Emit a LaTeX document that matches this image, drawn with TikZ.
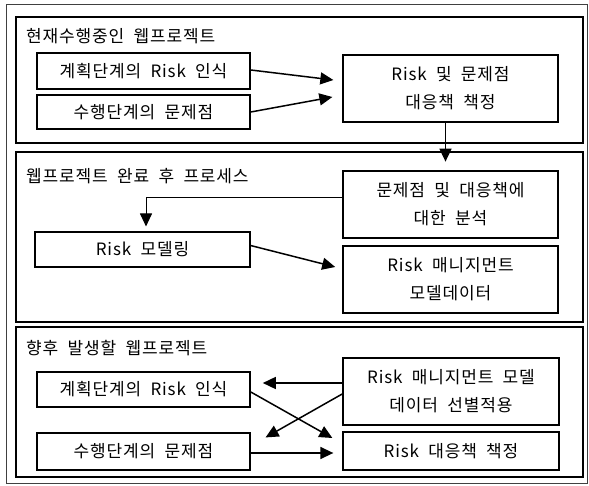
\documentclass[tikz,border=0pt]{standalone}
\usepackage{fontspec}
\setmainfont{Noto Sans CJK KR}[LetterSpace=5,WordSpace=2]
\usetikzlibrary{arrows.meta,calc}
\begin{document}
\begin{tikzpicture}[x=1pt,y=-1pt,
  panel/.style={draw, line width=1.8pt},
  box/.style={draw, line width=1.6pt, align=center, inner sep=0pt,
    font=\fontsize{17}{28}\selectfont},
  title/.style={anchor=west, inner sep=0pt, font=\fontsize{17}{20}\selectfont},
  arr/.style={line width=1.5pt, -{Triangle[length=13pt,width=12pt]}},
  thinarr/.style={line width=1pt, -{Triangle[length=13pt,width=12pt]}}]
\useasboundingbox (0,0) rectangle (589,486);
\draw[line width=1pt, black!75] (6,5) rectangle (587,483);
% panels
\draw[panel] (16,17) rectangle (583,143);
\draw[panel] (16,152) rectangle (583,322);
\draw[panel] (16,327) rectangle (583,477);
\node[title] (t1) at (26,36) {현재수행중인\ 웹프로젝트};
\node[title] (t2) at (26,176) {웹프로젝트 완료 후 프로세스};
\node[title] (t3) at (26,348) {향후 발생할 웹프로젝트};
% panel 1
\node[box, minimum width=213pt, minimum height=36pt] (A) at (143.5,71) {계획단계의 Risk 인식};
\node[box, minimum width=213pt, minimum height=34pt] (B) at (143.5,112) {수행단계의 문제점};
\node[box, line width=1.3pt, minimum width=215pt, minimum height=67pt] (C) at (450.5,88.5) {Risk 및 문제점\\대응책 책정};
% panel 2
\node[box, minimum width=215pt, minimum height=67pt] (D) at (450.5,204.5) {문제점 및 대응책에\\대한 분석};
\node[box, line width=1.1pt, minimum width=215pt, minimum height=35pt] (E) at (142.5,249.5) {Risk 모델링};
\node[box, minimum width=215pt, minimum height=67pt] (F) at (450.5,279.5) {Risk 매니지먼트\\모델데이터};
% panel 3
\node[box, minimum width=213pt, minimum height=35pt] (G) at (143.5,389.5) {계획단계의 Risk 인식};
\node[box, line width=1.1pt, minimum width=213pt, minimum height=37pt] (H) at (143.5,451.5) {수행단계의 문제점};
\node[box, minimum width=216pt, minimum height=67pt] (I) at (451,391.5) {Risk 매니지먼트 모델\\데이터 선별적용};
\node[box, line width=1.3pt, minimum width=216pt, minimum height=38pt] (J) at (451,451) {Risk 대응책 책정};
% connectors
\draw[arr] ($(A.east)+(0,-1)$) -- ($(C.west)+(-9,-8.5)$);
\draw[arr] (B.east) -- ($(C.west)+(-10,8.5)$);
\draw[arr] ($(C.south)+(-5,0)$) -- ($(C.south)+(-5,39)$);
\draw[thinarr, shorten >=5pt] ($(D.west)+(0,-6.5)$) -| ($(E.north)+(3.5,0)$);
\draw[arr] ($(E.east)+(0,-4)$) -- ($(F.west)+(-7,-12.5)$);
\draw[arr] ($(I.west)+(0,-8.5)$) -- ($(G.east)+(12,-6.5)$);
\draw[arr] ($(I.west)+(0,2.5)$) -- ($(H.north east)+(15,5)$);
\draw[arr] ($(G.east)+(0,2.5)$) -- ($(J.west)+(-10,-13)$);
\draw[arr] ($(H.east)+(0,1.5)$) -- ($(J.west)+(-9,2)$);
\end{tikzpicture}
\end{document}
